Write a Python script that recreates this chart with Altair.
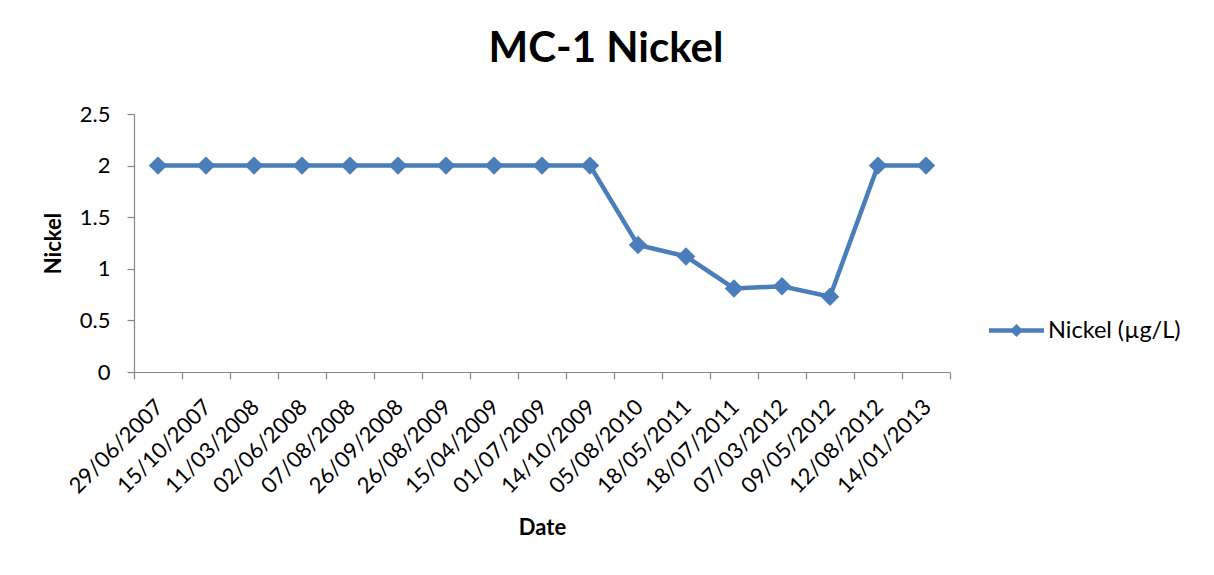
import json
import altair as alt
import pandas as pd

dates = ["29/06/2007", "15/10/2007", "11/03/2008", "02/06/2008", "07/08/2008",
         "26/09/2008", "26/08/2009", "15/04/2009", "01/07/2009", "14/10/2009",
         "05/08/2010", "18/05/2011", "18/07/2011", "07/03/2012", "09/05/2012",
         "12/08/2012", "14/01/2013"]
nickel = [2, 2, 2, 2, 2, 2, 2, 2, 2, 2, 1.23, 1.12, 0.81, 0.83, 0.73, 2, 2]
series_name = "Nickel (µg/L)"
y_ticks = [0, 0.5, 1, 1.5, 2, 2.5]

n = len(dates)
df = pd.DataFrame({"idx": list(range(n)), "Date": dates,
                   "Nickel": nickel, "series": [series_name] * n})

W, H = 816, 258
band = W / n
boundaries = [i - 0.5 for i in range(n + 1)]
label_expr = "(" + json.dumps(dates) + ")[round(datum.value + 0.5)] || ''"

BLUE = "#4a7ebb"
FONT = "Lato"
AXIS_GREY = "#868686"

x_enc = alt.X(
    "idx:Q",
    scale=alt.Scale(domain=[-0.5, n - 0.5], nice=False, zero=False),
    axis=alt.Axis(
        values=boundaries, labelExpr=label_expr, labelOffset=band / 2 + 1,
        labelAngle=-45, labelAlign="right", labelBaseline="middle",
        labelPadding=24, tickSize=7, grid=False, labelOverlap=False,
        title="Date", titleX=W / 2, titleY=155, titleAlign="center",
        titleBaseline="middle",
    ),
)
y_enc = alt.Y(
    "Nickel:Q",
    scale=alt.Scale(domain=[0, 2.5], nice=False),
    axis=alt.Axis(
        values=y_ticks, format=".1~f", tickSize=7, labelPadding=17,
        grid=False, title="Nickel", titleAngle=-90, titleX=-81, titleY=H / 2,
        titleAlign="center", titleBaseline="middle",
    ),
)

line = alt.Chart(df).mark_line(color=BLUE, strokeWidth=4.5).encode(x=x_enc, y=y_enc)

legend_path = ("M-1,-0.085L1,-0.085L1,0.085L-1,0.085Z "
               "M0,-0.24L0.24,0L0,0.24L-0.24,0Z")
points = alt.Chart(df).mark_point(
    shape="diamond", filled=True, size=340, opacity=1
).encode(
    x=x_enc, y=y_enc,
    color=alt.Color(
        "series:N",
        scale=alt.Scale(domain=[series_name], range=[BLUE]),
        legend=alt.Legend(
            title=None, orient="none", legendX=855, legendY=189,
            symbolType=legend_path, symbolSize=3025, symbolStrokeWidth=0,
            symbolOpacity=1, labelFont=FONT, labelFontSize=23.5,
            labelColor="#000", labelOffset=4, padding=0,
        ),
    ),
)

chart = alt.layer(line, points).properties(
    width=W, height=H,
    title=alt.TitleParams(
        "MC-1 Nickel", font=FONT, fontSize=42, fontWeight="bold", color="#000",
        anchor="middle", frame="group", dx=64, dy=5, offset=4, baseline="alphabetic",
    ),
    autosize=alt.AutoSizeParams(type="none"),
    padding={"left": 126, "top": 106, "right": 256, "bottom": 195},
).configure(background="white").configure_view(stroke=None).configure_axis(
    labelFont=FONT, labelFontSize=22, labelColor="#000",
    titleFont=FONT, titleFontSize=22, titleFontWeight="bold", titleColor="#000",
    domainColor=AXIS_GREY, tickColor=AXIS_GREY, domainWidth=1.2, tickWidth=1.2,
)

chart.save("out.html", embed_options={"renderer": "svg", "actions": False})
